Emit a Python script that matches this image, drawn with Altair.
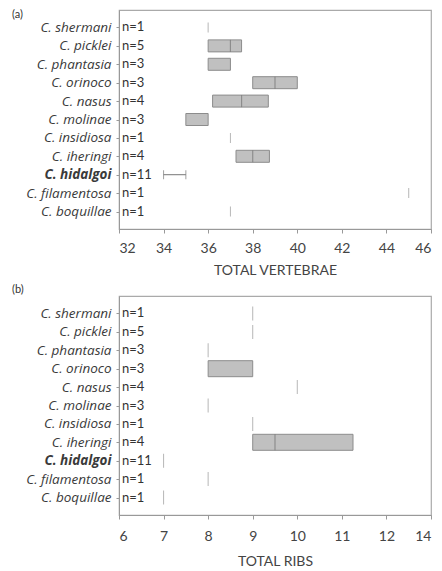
import altair as alt
import pandas as pd

SPECIES = ["C. shermani", "C. picklei", "C. phantasia", "C. orinoco", "C. nasus",
           "C. molinae", "C. insidiosa", "C. iheringi", "C. hidalgoi",
           "C. filamentosa", "C. boquillae"]
N = [1, 5, 3, 3, 4, 3, 1, 4, 11, 1, 1]

# Panel (a) total vertebrae
VERT_Q1 = [36, 36, 36, 38, 36.2, 35, 37, 37.25, None, 45, 37]
VERT_MED = [36, 37, None, 39, 37.5, None, 37, 38, None, 45, 37]
VERT_Q3 = [36, 37.5, 37, 40, 38.7, 36, 37, 38.75, None, 45, 37]
VERT_WLO = [None, None, None, None, None, None, None, None, 34, None, None]
VERT_WHI = [None, None, None, None, None, None, None, None, 35, None, None]
VERT_TICKS = [32, 34, 36, 38, 40, 42, 44, 46]
VERT_TICK_LABELS = ["32", "34", "36", "38", "40", "42", "44", "46"]

# Panel (b) total ribs
RIB_Q1 = [9, 9, 8, 8, 10, 8, 9, 9, 7, 8, 7]
RIB_MED = [9, 9, 8, None, 10, 8, 9, 9.5, 7, 8, 7]
RIB_Q3 = [9, 9, 8, 9, 10, 8, 9, 11.25, 7, 8, 7]
RIB_WLO = [None] * 11
RIB_WHI = [None] * 11
RIB_TICKS = [6, 7, 8, 9, 10, 11, 12, 13]
RIB_TICK_LABELS = ["6", "7", "8", "9", "10", "11", "12", "14"]

FONT = "Lato"
W, H = 312, 219


def panel(q1, med, q3, wlo, whi, tag, title, ticks, tick_labels, box_size, single_size,
          tag_y, label_pad, title_pad):
    df = pd.DataFrame({
        "species": SPECIES,
        "nlabel": [f"n={v}" for v in N],
        "q1": q1, "med": med, "q3": q3, "wlo": wlo, "whi": whi,
    })
    label_map = "{" + ",".join(f"'{t}':'{l}'" for t, l in zip(ticks, tick_labels)) + "}"
    xscale = alt.Scale(domain=[ticks[0], ticks[-1]], nice=False, zero=False)
    xaxis = alt.Axis(values=ticks, labelExpr=f"{label_map}[datum.value]", title=title,
                     grid=False, tickSize=4, tickColor="#999", domainColor="#999",
                     labelFontSize=14, labelColor="#444", labelFont=FONT,
                     titleFontSize=14, titleFont=FONT, titleColor="#444",
                     titleFontWeight="normal", titlePadding=title_pad, labelPadding=label_pad)
    yenc = alt.Y("species:N", sort=SPECIES,
                 scale=alt.Scale(type="point", padding=0.95),
                 axis=alt.Axis(title=None, labelFontStyle="italic", labelFontSize=13.5,
                               labelFont="Open Sans", labelColor="#3a3a3a",
                               labelFontWeight=alt.ExprRef(expr="datum.label == 'C. hidalgoi' ? 'bold' : 'normal'"),
                               tickSize=3, tickColor="#999", domainColor="#999",
                               labelPadding=5))
    base = alt.Chart(df)
    boxes = base.transform_filter("isValid(datum.q1) && datum.q3 > datum.q1").mark_bar(
        size=box_size, color="#c0c0c0", stroke="#8c8c8c", strokeWidth=1
    ).encode(x=alt.X("q1:Q", scale=xscale, axis=xaxis), x2="q3:Q", y=yenc)
    medians = base.transform_filter(
        "isValid(datum.q1) && datum.q3 > datum.q1 && isValid(datum.med)").mark_tick(
        size=box_size, thickness=1.2, color="#777"
    ).encode(x=alt.X("med:Q", scale=xscale), y=yenc)
    singles = base.transform_filter("isValid(datum.q1) && datum.q3 == datum.q1").mark_tick(
        size=single_size, thickness=1, color="#999"
    ).encode(x=alt.X("q1:Q", scale=xscale), y=yenc)
    wh = base.transform_filter("isValid(datum.wlo)")
    whisk = wh.mark_rule(color="#777", strokeWidth=1).encode(
        x=alt.X("wlo:Q", scale=xscale), x2="whi:Q", y=yenc)
    cap_lo = wh.mark_tick(size=9, thickness=1, color="#777").encode(
        x=alt.X("wlo:Q", scale=xscale), y=yenc)
    cap_hi = wh.mark_tick(size=9, thickness=1, color="#777").encode(
        x=alt.X("whi:Q", scale=xscale), y=yenc)
    ntext = base.mark_text(align="left", baseline="middle", fontSize=13, font=FONT,
                           color="#333").encode(x=alt.value(3), y=yenc, text="nlabel:N")
    tagc = alt.Chart(pd.DataFrame({"t": [tag]})).mark_text(
        align="left", baseline="middle", fontSize=11, font=FONT, color="#333"
    ).encode(x=alt.value(-107), y=alt.value(tag_y), text="t:N")
    return alt.layer(boxes, medians, singles, whisk, cap_lo, cap_hi, ntext, tagc).properties(
        width=W, height=H)


pa = panel(VERT_Q1, VERT_MED, VERT_Q3, VERT_WLO, VERT_WHI, "(a)", "TOTAL VERTEBRAE",
           VERT_TICKS, VERT_TICK_LABELS, 12, 10, 5, 8, 8)
pb = panel(RIB_Q1, RIB_MED, RIB_Q3, RIB_WLO, RIB_WHI, "(b)", "TOTAL RIBS",
           RIB_TICKS, RIB_TICK_LABELS, 16, 14, -6, 10, 11)

chart = alt.vconcat(pa, pb, spacing=5).properties(
    padding={"left": 3, "top": 0, "right": 0, "bottom": 0}
).configure_view(stroke="#aaa", strokeWidth=1.2)

chart.save("out.html", embed_options={"renderer": "svg", "actions": False})
